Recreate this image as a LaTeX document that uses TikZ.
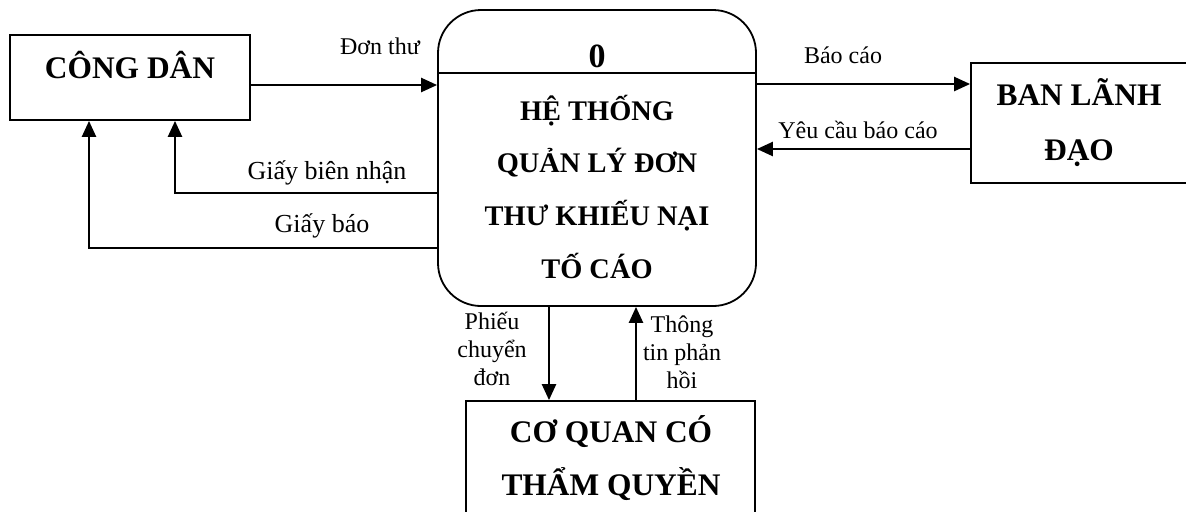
\documentclass[tikz,border=0pt]{standalone}
\usepackage{fontspec}
\setmainfont{Liberation Serif}
\usetikzlibrary{arrows.meta,positioning}

\begin{document}
\begin{tikzpicture}[x=0.5pt,y=-0.5pt,
    entity/.style={draw, line width=0.9pt, inner sep=0pt},
    process/.style={draw, line width=0.9pt, rounded corners=21.5pt,
      minimum width=159pt, minimum height=148pt, inner sep=0pt},
    flow/.style={line width=1.2pt, -{Triangle[length=8pt,width=7pt]}},
    etext/.style={font=\fontsize{15.7}{26.5}\selectfont\bfseries, inner sep=0pt, align=center, anchor=base},
    ptext/.style={font=\fontsize{14.2}{26.3}\selectfont\bfseries, inner sep=0pt, align=center, anchor=base},
    flabel/.style={font=\fontsize{12}{13.8}\selectfont, inner sep=0pt, align=center, anchor=base},
    glabel/.style={font=\fontsize{13}{15}\selectfont, inner sep=0pt, anchor=base}
  ]
  \clip (0,0) rectangle (1186,511);

  % Tac nhan ngoai
  \node[entity, minimum width=120pt, minimum height=42.5pt] (congdan) at (130,77.5) {};
  \node[entity, minimum width=120pt, minimum height=60pt] (banld) at (1091,123) {};
  \node[entity, minimum width=144.5pt, minimum height=70pt] (cqct) at (610.5,471) {};
  \node[etext] (congdanTxt) at (130,78) {CÔNG DÂN};
  \node[etext] (banldTxt) at (1079,160) {BAN LÃNH\\[1pt]ĐẠO};
  \node[etext] (cqctTxt) at (611,495) {CƠ QUAN CÓ\\THẨM QUYỀN};

  % Tien trinh
  \node[process] (proc) at (597,158) {};
  \draw[line width=0.9pt] (proc.west |- 0,73) -- (proc.east |- 0,73);
  \node[ptext, font=\fontsize{17}{20}\selectfont\bfseries] (procId) at (597,67) {0};
  \node[ptext] (procTxt) at (597,278) {HỆ THỐNG\\QUẢN LÝ ĐƠN\\THƯ KHIẾU NẠI\\TỐ CÁO};

  % Cac diem gap khuc
  \coordinate (dt) at (0,85);
  \coordinate (bc) at (0,84);
  \coordinate (ycbc) at (0,149);
  \coordinate (gbn) at (175,193);
  \coordinate (gb) at (89,248);
  \coordinate (pcd) at (549,0);
  \coordinate (ttph) at (636,0);

  % Luong du lieu
  \draw[flow] (congdan.east |- dt) -- (proc.west |- dt);
  \draw[flow] (proc.east |- bc) -- (banld.west |- bc);
  \draw[flow] (banld.west |- ycbc) -- (proc.east |- ycbc);
  \draw[flow] (proc.west |- gbn) -| (congdan.south -| gbn);
  \draw[flow] (proc.west |- gb) -| (congdan.south -| gb);
  \draw[flow] (proc.south -| pcd) -- (cqct.north -| pcd);
  \draw[flow] (cqct.north -| ttph) -- (proc.south -| ttph);

  % Nhan
  \node[flabel] (dtLbl) at (380,54) {Đơn thư};
  \node[flabel] (bcLbl) at (843,63) {Báo cáo};
  \node[flabel] (ycbcLbl) at (858,138) {Yêu cầu báo cáo};
  \node[glabel] (gbnLbl) at (327,179) {Giấy biên nhận};
  \node[glabel] (gbLbl) at (322,232) {Giấy báo};
  \node[flabel] (pcdLbl) at (492,385) {Phiếu\\chuyển\\đơn};
  \node[flabel] (ttphLbl) at (682,388) {Thông\\tin phản\\hồi};
\end{tikzpicture}
\end{document}
